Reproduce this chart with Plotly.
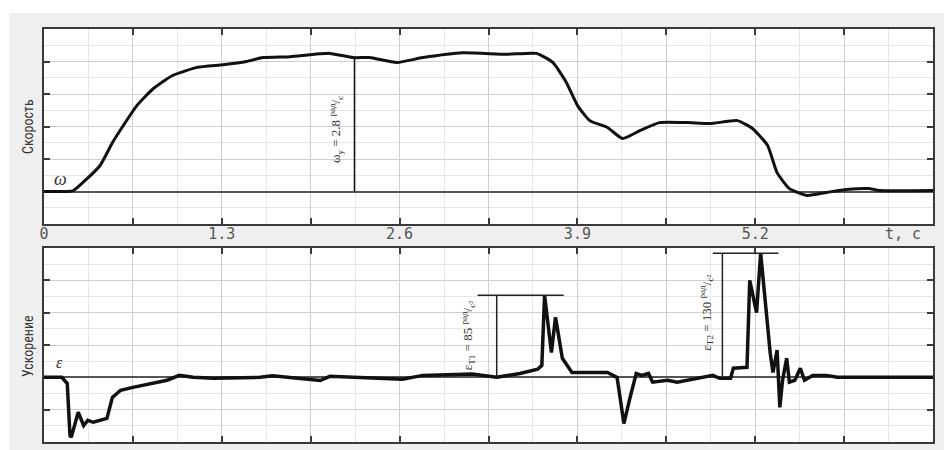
import numpy as np
import plotly.graph_objects as go

# ---------------- data ----------------
speed_t = [0, 0.12, 0.21, 0.285, 0.41, 0.50, 0.58, 0.68, 0.80, 0.94, 1.12,
           1.31, 1.48, 1.60, 1.80, 2.09, 2.26, 2.38, 2.58, 2.77, 3.06,
           3.38, 3.60, 3.72, 3.82, 3.90, 3.99, 4.12, 4.23, 4.36, 4.50,
           4.70, 4.87, 5.07, 5.18, 5.29, 5.36, 5.45, 5.58, 5.72, 5.87,
           6.03, 6.11, 6.5]
speed_v = [0, 0, 0.02, 0.28, 0.8, 1.5, 2.03, 2.65, 3.17, 3.57, 3.82,
           3.9, 4.0, 4.12, 4.15, 4.25, 4.12, 4.12, 3.97, 4.12, 4.27,
           4.22, 4.25, 3.97, 3.35, 2.65, 2.18, 1.97, 1.63, 1.88, 2.12,
           2.12, 2.09, 2.18, 1.94, 1.42, 0.58, 0.09, -0.12, -0.03, 0.06,
           0.09, 0.03, 0.03]

acc_t = [0, 0.13, 0.17, 0.19, 0.20, 0.23, 0.25, 0.29, 0.32, 0.36,
         0.41, 0.46, 0.50, 0.56, 0.65, 0.78, 0.90, 0.99, 1.09, 1.24,
         1.58, 1.67, 2.02, 2.09, 2.62, 2.77, 3.13, 3.31, 3.48, 3.61,
         3.64, 3.66, 3.71, 3.74, 3.79, 3.86, 4.12, 4.19, 4.24, 4.28,
         4.33, 4.37, 4.42, 4.45, 4.56, 4.63, 4.80, 4.89, 4.94, 5.02,
         5.04, 5.11, 5.14, 5.16, 5.21, 5.24, 5.31, 5.33, 5.36, 5.38,
         5.40, 5.43, 5.45, 5.49, 5.53, 5.56, 5.62, 5.72, 5.80, 6.5]
acc_v = [0, 0, -0.19, -1.8, -1.85, -1.33, -1.08, -1.49, -1.33, -1.39,
         -1.33, -1.27, -0.62, -0.40, -0.31, -0.19, -0.09, 0.06, 0.0, -0.03,
         0.0, 0.05, -0.1, 0.03, -0.06, 0.06, 0.1, 0.0, 0.12, 0.25,
         0.37, 2.54, 0.77, 1.86, 0.59, 0.15, 0.15, 0.0, -1.43, -0.71,
         0.12, 0.06, 0.12, -0.15, -0.09, -0.15, -0.03, 0.06, -0.03, -0.03,
         0.28, 0.31, 0.31, 3.0, 2.0, 3.84, 0.74, 0.15, 0.84, -0.93,
         -0.09, 0.59, -0.15, -0.09, 0.28, -0.09, 0.06, 0.06, 0.0, 0.0]

x_tick_vals = [0, 0.65, 1.3, 1.95, 2.6, 3.25, 3.9, 4.55, 5.2, 5.85, 6.5]
x_tick_text = ["0", "", "1.3", "", "2.6", "", "3.9", "", "5.2", "", ""]
speed_y_ticks = [1, 2, 3, 4]
acc_y_ticks = [-1, 1, 2, 3]

omega_mark_t = 2.27
omega_label = "ω<sub>у</sub> = 2.8 <sup>рад</sup>/<sub>с</sub>"
eps1_mark_t, eps1_bar = 3.31, (3.17, 3.80)
eps1_label = "ε<sub>T1</sub> = 85 <sup>рад</sup>/<sub>с²</sub>"
eps2_mark_t, eps2_bar = 4.96, (4.89, 5.37)
eps2_label = "ε<sub>T2</sub> = 130 <sup>рад</sup>/<sub>с²</sub>"

# ---------------- figure ----------------
fig = go.Figure()
fig.add_trace(go.Scatter(x=speed_t, y=speed_v, mode="lines",
                         line=dict(color="#111", width=3, shape="spline", smoothing=0.5),
                         xaxis="x", yaxis="y", showlegend=False, hoverinfo="skip"))
fig.add_trace(go.Scatter(x=acc_t, y=acc_v, mode="lines",
                         line=dict(color="#111", width=3.5),
                         xaxis="x2", yaxis="y2", showlegend=False, hoverinfo="skip"))

frame = "#3a3a3a"
major_grid = "#cfcfcf"
minor_grid = "#e6e6e6"

def xaxis_cfg(labels, anchor):
    return dict(range=[0, 6.5], domain=[0, 1], anchor=anchor,
                tickmode="array", tickvals=x_tick_vals,
                ticktext=x_tick_text if labels else [""] * len(x_tick_vals),
                showticklabels=labels, ticklabelstandoff=-5,
                ticks="inside", ticklen=6, tickwidth=1.5, tickcolor=frame,
                showline=True, linecolor=frame, linewidth=2, mirror="ticks",
                showgrid=True, gridcolor=major_grid, gridwidth=1,
                zeroline=False,
                minor=dict(tickmode="linear", tick0=0, dtick=0.325,
                           showgrid=True, gridcolor=minor_grid, gridwidth=1),
                tickfont=dict(family="DejaVu Sans Mono", size=15, color="#555"))

def yaxis_cfg(rng, tv, dom, anchor):
    return dict(range=rng, domain=dom, anchor=anchor,
                tickmode="array", tickvals=tv, showticklabels=False,
                ticks="inside", ticklen=6, tickwidth=1.5, tickcolor=frame,
                showline=True, linecolor=frame, linewidth=2, mirror="ticks",
                showgrid=True, gridcolor=major_grid, gridwidth=1,
                zeroline=True, zerolinecolor="#555", zerolinewidth=1.8,
                minor=dict(tickmode="linear", tick0=0, dtick=0.5,
                           showgrid=True, gridcolor=minor_grid, gridwidth=1))

W, H = 944, 450
ml, mr, mt, mb = 44, 11, 29, 8
pw, ph = W - ml - mr, H - mt - mb

def py(pix):  # pixel row -> paper y
    return (H - mb - pix) / ph

def px(pix):  # pixel col -> paper x
    return (pix - ml) / pw

fig.update_layout(
    width=W, height=H,
    margin=dict(l=ml, r=mr, t=mt, b=mb),
    paper_bgcolor="#efefef", plot_bgcolor="#ffffff",
    xaxis=xaxis_cfg(True, "y"),
    yaxis=yaxis_cfg([-1, 5], speed_y_ticks, [py(224), 1], "x"),
    xaxis2=xaxis_cfg(False, "y2"),
    yaxis2=yaxis_cfg([-2, 4], acc_y_ticks, [0, py(248)], "x2"),
)

# white outer strips (scan border)
fig.add_shape(type="rect", xref="paper", yref="paper", x0=-0.2, x1=1.2,
              y0=py(13), y1=1.3, fillcolor="white", line_width=0, layer="above")
fig.add_shape(type="rect", xref="paper", yref="paper", x0=-0.2, x1=px(9),
              y0=-0.2, y1=1.3, fillcolor="white", line_width=0, layer="above")

# marker lines derived from the data
omega_val = float(np.interp(omega_mark_t, speed_t, speed_v))
fig.add_shape(type="line", xref="x", yref="y", x0=omega_mark_t, x1=omega_mark_t,
              y0=0, y1=omega_val, line=dict(color="#111", width=1.5))

acc_t_arr, acc_v_arr = np.array(acc_t), np.array(acc_v)
pk1 = float(acc_v_arr[(acc_t_arr > 3.5) & (acc_t_arr < 3.9)].max())
pk2 = float(acc_v_arr[(acc_t_arr > 5.0) & (acc_t_arr < 5.4)].max())
for mt_, bar, pk in [(eps1_mark_t, eps1_bar, pk1), (eps2_mark_t, eps2_bar, pk2)]:
    fig.add_shape(type="line", xref="x2", yref="y2", x0=mt_, x1=mt_, y0=0, y1=pk,
                  line=dict(color="#222", width=1.5))
    fig.add_shape(type="line", xref="x2", yref="y2", x0=bar[0], x1=bar[1], y0=pk, y1=pk,
                  line=dict(color="#222", width=1.5))

lab_font = dict(family="Liberation Serif", size=13, color="#333")
C = dict(xanchor="center", yanchor="middle", showarrow=False)
fig.add_annotation(x=2.13, y=1.9, xref="x", yref="y", text=omega_label, textangle=-90,
                   font=lab_font, **C)
fig.add_annotation(x=3.10, y=1.3, xref="x2", yref="y2", text=eps1_label, textangle=-90,
                   font=lab_font, **C)
fig.add_annotation(x=4.84, y=2.0, xref="x2", yref="y2", text=eps2_label, textangle=-90,
                   font=lab_font, **C)

fig.add_annotation(x=0.12, y=0.38, xref="x", yref="y", text="<i>ω</i>",
                   font=dict(family="Liberation Serif", size=18, color="#333"), **C)
fig.add_annotation(x=0.11, y=0.45, xref="x2", yref="y2", text="<i>ε</i>",
                   font=dict(family="Liberation Serif", size=16, color="#333"), **C)

ax_font = dict(family="Liberation Sans Narrow, Roboto Condensed, Liberation Sans", size=14, color="#333")
fig.add_annotation(x=px(28), y=py(127), xref="paper", yref="paper", text="Скорость",
                   textangle=-90, font=ax_font, **C)
fig.add_annotation(x=px(28), y=py(346), xref="paper", yref="paper", text="Ускорение",
                   textangle=-90, font=ax_font, **C)
fig.add_annotation(x=px(903), y=py(234), xref="paper", yref="paper", text="t, c",
                   font=dict(family="DejaVu Sans Mono", size=15, color="#555"), **C)

fig.write_html("out.html", config={"displayModeBar": False},
               post_script="document.body.style.margin='0px';")
